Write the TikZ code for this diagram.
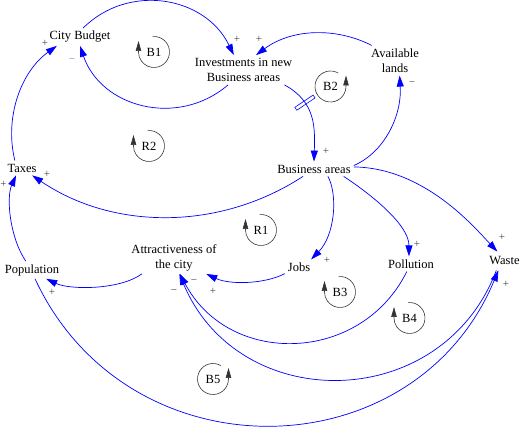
\documentclass[tikz,border=0pt]{standalone}
\usepackage{fontspec}
\setmainfont{Liberation Serif}
\usetikzlibrary{arrows.meta}
\definecolor{signblue}{RGB}{120,120,220}
\begin{document}
\begin{tikzpicture}[x=1pt,y=1pt,
  var/.style={font=\fontsize{12.5}{15}\selectfont, align=center, inner sep=3pt},
  link/.style={draw=blue, line width=0.7pt, -{Triangle[length=11pt,width=7pt]}},
  sign/.style={font=\fontsize{11}{12}\selectfont, text=black!75, inner sep=0pt},
  loopname/.style={font=\fontsize{12.5}{15}\selectfont, inner sep=0pt},
  looparc/.style={draw=black!80, line width=0.6pt, -{Triangle[length=10pt,width=5.5pt]}},
  delay/.style={sloped, draw=blue, line width=0.6pt, minimum width=3.5pt, minimum height=22pt, inner sep=0pt}]
\useasboundingbox (0,0) rectangle (520,-427);
\node[var] (budget) at (80,-37) {City Budget};
\node[var] (invest) at (243.5,-70) {Investments in new\\Business areas};
\node[var] (lands) at (395,-60.5) {Available\\lands};
\node[var] (business) at (314,-169) {Business areas};
\node[var] (taxes) at (22,-168) {Taxes};
\node[var] (population) at (32,-270) {Population};
\node[var] (attract) at (174,-257.5) {Attractiveness of\\the city};
\node[var] (jobs) at (299,-267) {Jobs};
\node[var] (pollution) at (411,-264) {Pollution};
\node[var, inner ysep=5pt] (waste) at (504.5,-261) {Waste};
\draw[link] (budget.71) .. controls (128.4,17.1) and (205.1,4.1) .. (invest.123);
\draw[link] (invest.224) .. controls (177.5,-128.2) and (100.9,-107.2) .. (budget.south);
\draw[link] (lands.147) .. controls (333.4,-26.1) and (290,-29.8) .. (invest.50);
\draw[link] (invest.-20) .. controls (316,-102) and (315,-128) .. (business.north) node[delay, pos=.3] (d1) {};
\draw[link] (business.5) .. controls (385,-152) and (402,-115) .. (lands.-73);
\draw[link] (taxes.134) .. controls (4.1,-117.1) and (21.2,-71.4) .. (budget.201);
\draw[link] (business.214) .. controls (219.2,-231.1) and (112.9,-230.1) .. (taxes.-36);
\draw[link] (population.125) .. controls (10,-238) and (6,-198) .. (taxes.231);
\draw[link] (attract.207) .. controls (120,-290) and (70,-290) .. (population.-32);
\draw[link] (jobs.205) .. controls (265,-284) and (230,-285) .. (attract.-27);
\draw[link] (business.-28) .. controls (338,-195) and (335,-235) .. (jobs.32);
\draw[link] (business.-14) .. controls (372,-195) and (409,-225) .. (pollution.105);
\draw[link] (business.3) .. controls (425,-168) and (475,-228) .. (waste.127);
\draw[link] (pollution.241) .. controls (361,-364) and (229,-367) .. (attract.-70);
\draw[link] (waste.229) .. controls (442,-413.7) and (239,-416) .. (attract.-72);
\draw[link] (population.-71) .. controls (127.5,-478) and (414.2,-472.4) .. (waste.237);
\node[sign] (s1) at (237,-39) {+};
\node[sign] (s2) at (259,-39) {+};
\node[sign, text=signblue] (s3) at (72,-61) {−};
\node[sign] (s4) at (45,-43) {+};
\node[sign] (s5) at (47,-174) {+};
\node[sign] (s6) at (3.5,-184) {+};
\node[sign] (s7) at (326,-151) {+};
\node[sign] (s8) at (412,-84) {−};
\node[sign] (s9) at (52,-292) {+};
\node[sign] (s10) at (213,-291) {+};
\node[sign] (s11) at (194,-282) {−};
\node[sign] (s12) at (174,-292) {−};
\node[sign] (s13) at (327,-260) {+};
\node[sign] (s14) at (417,-244) {+};
\node[sign] (s15) at (502,-237) {+};
\node[sign] (s16) at (506,-284) {+};
\node[loopname] (b1) at (154,-52) {B1};
\draw[looparc] (b1.center) ++(95:15.5) arc[start angle=95, end angle=-180, radius=15.5] -- ++(0,11);
\node[loopname] (r2) at (149,-146) {R2};
\draw[looparc] (r2.center) ++(95:15.5) arc[start angle=95, end angle=-180, radius=15.5] -- ++(0,11);
\node[loopname] (b2) at (330.5,-86.5) {B2};
\draw[looparc] (b2.center) ++(60:15.5) arc[start angle=60, end angle=360, radius=15.5] -- ++(0,11);
\node[loopname] (r1) at (261,-230) {R1};
\draw[looparc] (r1.center) ++(95:15.5) arc[start angle=95, end angle=-180, radius=15.5] -- ++(0,11);
\node[loopname] (b3) at (340,-292) {B3};
\draw[looparc] (b3.center) ++(95:15.5) arc[start angle=95, end angle=-180, radius=15.5] -- ++(0,11);
\node[loopname] (b4) at (409.5,-318) {B4};
\draw[looparc] (b4.center) ++(95:15.5) arc[start angle=95, end angle=-180, radius=15.5] -- ++(0,11);
\node[loopname] (b5) at (213,-379) {B5};
\draw[looparc] (b5.center) ++(60:15.5) arc[start angle=60, end angle=360, radius=15.5] -- ++(0,11);
\end{tikzpicture}
\end{document}
